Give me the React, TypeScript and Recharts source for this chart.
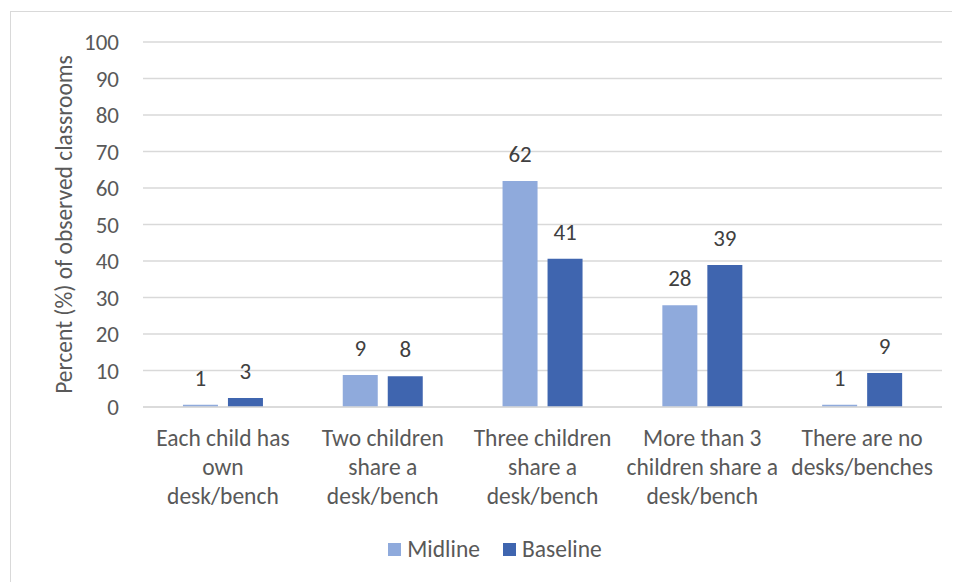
import React from "react";
import {
  BarChart,
  Bar,
  XAxis,
  YAxis,
  CartesianGrid,
  Legend,
  LabelList,
} from "recharts";

// category labels, with the line breaks used in the original
const categories = [
  "Each child has\nown\ndesk/bench",
  "Two children\nshare a\ndesk/bench",
  "Three children\nshare a\ndesk/bench",
  "More than 3\nchildren share a\ndesk/bench",
  "There are no\ndesks/benches",
];

const midline = [0.6, 8.8, 61.9, 27.9, 0.6];
const baseline = [2.5, 8.4, 40.6, 38.9, 9.3];

const yTicks = [0, 10, 20, 30, 40, 50, 60, 70, 80, 90, 100];

const MIDLINE_COLOR = "#8FAADC";
const BASELINE_COLOR = "#3F65AF";
const TEXT = "#595959";
const FONT = "Carlito, Calibri, Lato, sans-serif";

const data = categories.map((name, i) => ({
  name,
  Midline: midline[i],
  Baseline: baseline[i],
}));

const CategoryTick = ({ x, y, payload }: any) => {
  const lines = String(payload.value).split("\n");
  return (
    <text
      x={x}
      y={y}
      textAnchor="middle"
      fill={TEXT}
      fontSize={23.5}
      fontFamily={FONT}
    >
      {lines.map((line, i) => (
        <tspan key={i} x={x} y={y + 39 + i * 29}>
          {line}
        </tspan>
      ))}
    </text>
  );
};

const YTitle = ({ viewBox }: any) => {
  const cx = viewBox.x + 56;
  const cy = viewBox.y + viewBox.height / 2;
  return (
    <text
      x={cx}
      y={cy}
      transform={`rotate(-90, ${cx}, ${cy})`}
      textAnchor="middle"
      dominantBaseline="central"
      fill={TEXT}
      fontSize={23.5}
      fontFamily={FONT}
    >
      Percent (%) of observed classrooms
    </text>
  );
};

const LegendBox = () => (
  <div
    style={{
      display: "flex",
      justifyContent: "center",
      alignItems: "center",
      height: 30,
      paddingLeft: 40,
      fontFamily: FONT,
      fontSize: 23.5,
      color: TEXT,
    }}
  >
    {[
      { label: "Midline", color: MIDLINE_COLOR },
      { label: "Baseline", color: BASELINE_COLOR },
    ].map((item, i) => (
      <div
        key={item.label}
        style={{ display: "flex", alignItems: "center", marginLeft: i ? 23 : 0 }}
      >
        <span
          style={{
            width: 13,
            height: 13,
            background: item.color,
            display: "inline-block",
            marginRight: 6,
          }}
        />
        {item.label}
      </div>
    ))}
  </div>
);

export default function App() {
  return (
    <div
      style={{
        position: "relative",
        width: 952,
        height: 574,
        overflow: "hidden",
        background: "#fff",
      }}
    >
      <div
        style={{
          position: "absolute",
          left: 2,
          top: 3,
          width: 980,
          height: 620,
          border: "1.5px solid #D9D9D9",
        }}
      />
      <div style={{ position: "absolute", left: 0, top: 0 }}>
        <BarChart
          width={952}
          height={574}
          data={data}
          margin={{ top: 34, right: 18, bottom: 18, left: 0 }}
          barCategoryGap="25%"
          barGap={10}
        >
          <CartesianGrid
            vertical={false}
            stroke="#D9D9D9"
            strokeWidth={1.5}
          />
          <XAxis
            dataKey="name"
            interval={0}
            height={127}
            tickLine={false}
            tickSize={0}
            tickMargin={0}
            axisLine={{ stroke: "#D9D9D9", strokeWidth: 1.5 }}
            tick={<CategoryTick />}
          />
          <YAxis
            width={135}
            domain={[0, 100]}
            ticks={yTicks}
            interval={0}
            axisLine={false}
            tickLine={false}
            tickSize={0}
            tickMargin={24}
            tick={{ fill: TEXT, fontSize: 23, fontFamily: FONT }}
            label={{ content: <YTitle /> }}
          />
          <Legend
            verticalAlign="bottom"
            content={<LegendBox />}
          />
          <Bar dataKey="Midline" fill={MIDLINE_COLOR} isAnimationActive={false}>
            <LabelList
              dataKey="Midline"
              position="top"
              offset={19}
              formatter={(v: any) => Math.round(Number(v))}
              fill="#404040"
              fontSize={23}
              fontFamily={FONT}
            />
          </Bar>
          <Bar dataKey="Baseline" fill={BASELINE_COLOR} isAnimationActive={false}>
            <LabelList
              dataKey="Baseline"
              position="top"
              offset={19}
              formatter={(v: any) => Math.round(Number(v))}
              fill="#404040"
              fontSize={23}
              fontFamily={FONT}
            />
          </Bar>
        </BarChart>
      </div>
    </div>
  );
}
